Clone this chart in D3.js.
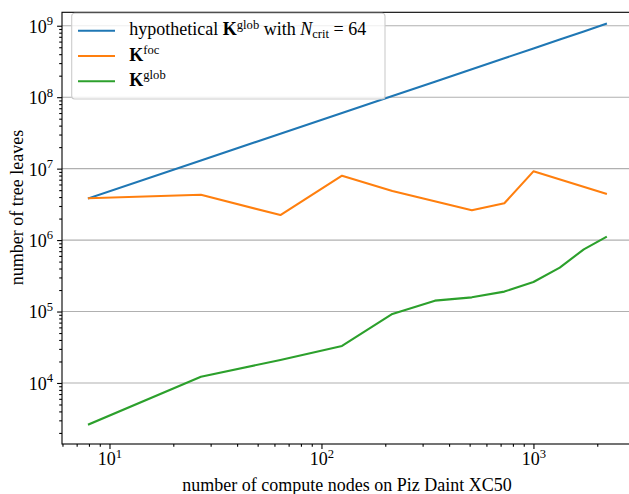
<!DOCTYPE html>
<html>
<head>
<meta charset="utf-8">
<script src="https://cdn.jsdelivr.net/npm/d3@7"></script>
<style>
  body { margin: 0; background: #fff; }
</style>
</head>
<body>
<script>
// compute nodes (cubes) and number of tree leaves
var nodes = [8, 27, 64, 125, 216, 343, 512, 729, 1000, 1331, 1728, 2197];
var hypoLeaves = [3.85e6, 1.30e7, 3.08e7, 6.02e7, 1.04e8, 1.65e8, 2.46e8, 3.51e8, 4.81e8, 6.41e8, 8.32e8, 1.06e9];
var focNodes = [8, 27, 64, 125, 216, 512, 729, 1000, 2197];
var focLeaves = [3.85e6, 4.31e6, 2.24e6, 7.96e6, 4.86e6, 2.61e6, 3.27e6, 9.16e6, 4.46e6];
var globLeaves = [2640, 12250, 21000, 33000, 92500, 142000, 158000, 190000, 259000, 411000, 743000, 1.10e6];

var xMajor = [10, 100, 1000];
var yMajor = [1e4, 1e5, 1e6, 1e7, 1e8, 1e9];

var width = 629,
    height = 494;
var margin = {top: 12.3, right: -3, bottom: 50, left: 62};
var font = "'Liberation Serif', 'Times New Roman', Times, 'DejaVu Serif', serif";

var svg = d3.select("body")
      .append("svg")
      .attr("width", width)
      .attr("height", height)
      .attr("font-family", font);

var x = d3.scaleLog()
      .domain([5.97, 2917])
      .range([margin.left, width - margin.right]);
var y = d3.scaleLog()
      .domain([Math.pow(10, 3.146), Math.pow(10, 9.188)])
      .range([height - margin.bottom, margin.top]);

var x0 = x.range()[0], x1 = x.range()[1],
    y0 = y.range()[0], y1 = y.range()[1];

// minor tick values inside the domain
function minors(scale) {
  var d = scale.domain(), out = [];
  for (var e = Math.floor(Math.log10(d[0])); e <= Math.ceil(Math.log10(d[1])); e++) {
    for (var m = 2; m <= 9; m++) {
      var v = m * Math.pow(10, e);
      if (v >= d[0] && v <= d[1]) out.push(v);
    }
  }
  return out;
}

// horizontal grid
svg.append("g")
  .selectAll("line")
  .data(yMajor)
  .enter().append("line")
    .attr("x1", x0).attr("x2", x1)
    .attr("y1", d => y(d)).attr("y2", d => y(d))
    .attr("stroke", "#b0b0b0")
    .attr("stroke-width", 1.1);

// lines
var series = [
  {name: "hypo", xs: nodes, ys: hypoLeaves, color: "#1f77b4"},
  {name: "foc", xs: focNodes, ys: focLeaves, color: "#ff7f0e"},
  {name: "glob", xs: nodes, ys: globLeaves, color: "#2ca02c"}
];
var line = d3.line()
      .x(d => x(d[0]))
      .y(d => y(d[1]));
svg.append("g")
  .selectAll("path")
  .data(series)
  .enter().append("path")
    .attr("d", s => line(s.xs.map((n, i) => [n, s.ys[i]])))
    .attr("fill", "none")
    .attr("stroke", s => s.color)
    .attr("stroke-width", 2.1)
    .attr("stroke-linejoin", "round")
    .attr("stroke-linecap", "square");

// axes
function styleAxis(g) {
  g.select(".domain").remove();
  g.selectAll(".tick line").attr("stroke", "#000").attr("stroke-width", 1.1);
}
svg.append("g")
    .attr("transform", `translate(0, ${y0})`)
    .call(d3.axisBottom(x).tickValues(minors(x)).tickSize(2.8).tickFormat(""))
    .call(styleAxis);
var xAxis = svg.append("g")
    .attr("transform", `translate(0, ${y0})`)
    .call(d3.axisBottom(x).tickValues(xMajor).tickSize(4.9).tickFormat(""))
    .call(styleAxis);
svg.append("g")
    .attr("transform", `translate(${x0}, 0)`)
    .call(d3.axisLeft(y).tickValues(minors(y)).tickSize(2.8).tickFormat(""))
    .call(styleAxis);
var yAxis = svg.append("g")
    .attr("transform", `translate(${x0}, 0)`)
    .call(d3.axisLeft(y).tickValues(yMajor).tickSize(4.9).tickFormat(""))
    .call(styleAxis);

// power-of-ten labels
function powLabel(t, d) {
  t.append("tspan").text("10");
  t.append("tspan")
    .attr("dy", "-7.5")
    .attr("font-size", "12.6px")
    .text(Math.round(Math.log10(d)));
}
xAxis.selectAll(".tick").append("text")
    .attr("y", 21)
    .attr("fill", "#000")
    .attr("font-family", font)
    .attr("font-size", "18px")
    .attr("text-anchor", "middle")
    .each(function(d) { powLabel(d3.select(this), d); });
yAxis.selectAll(".tick").append("text")
    .attr("x", -9)
    .attr("y", 6.4)
    .attr("fill", "#000")
    .attr("font-family", font)
    .attr("font-size", "18px")
    .attr("text-anchor", "end")
    .each(function(d) { powLabel(d3.select(this), d); });

// frame
svg.append("rect")
    .attr("x", x0).attr("y", y1)
    .attr("width", x1 - x0).attr("height", y0 - y1)
    .attr("fill", "none")
    .attr("stroke", "#000")
    .attr("stroke-width", 1.1);

// axis titles
svg.append("text")
    .attr("x", (x0 + x1) / 2)
    .attr("y", 490.5)
    .attr("text-anchor", "middle")
    .attr("font-size", "18px")
    .text("number of compute nodes on Piz Daint XC50");
svg.append("text")
    .attr("transform", "translate(23, 207.5) rotate(-90)")
    .attr("text-anchor", "middle")
    .attr("font-size", "18px")
    .text("number of tree leaves");

// legend
var legend = svg.append("g").attr("class", "legend");
legend.append("rect")
    .attr("x", 71.7).attr("y", 13.3)
    .attr("width", 313.3).attr("height", 85.7)
    .attr("rx", 3)
    .attr("fill", "#fff").attr("fill-opacity", 0.8)
    .attr("stroke", "#cccccc").attr("stroke-width", 1.1);

var rows = legend.selectAll("g.row")
  .data(series)
  .enter().append("g")
    .attr("class", "row")
    .attr("transform", (d, i) => `translate(0, ${30.7 + i * 25.3})`);
rows.append("line")
    .attr("x1", 78).attr("x2", 115)
    .attr("stroke", d => d.color)
    .attr("stroke-width", 2.1);

function kLabel(t, sup) {
  t.append("tspan").attr("font-weight", "bold").text("K");
  t.append("tspan").attr("dy", "-6.7").attr("font-size", "12.6px").text(sup);
}
rows.append("text")
    .attr("x", 129.3)
    .attr("y", 4.6)
    .attr("font-size", "18px")
    .each(function(d) {
      var t = d3.select(this);
      if (d.name === "hypo") {
        t.append("tspan").text("hypothetical ");
        kLabel(t, "glob");
        t.append("tspan").attr("dy", "6.7").text(" with ");
        t.append("tspan").attr("font-style", "italic").text("N");
        t.append("tspan").attr("dy", "3").attr("font-size", "12.6px").text("crit");
        t.append("tspan").attr("dy", "-3").text(" = 64");
      } else {
        kLabel(t, d.name);
      }
    });
</script>
</body>
</html>
